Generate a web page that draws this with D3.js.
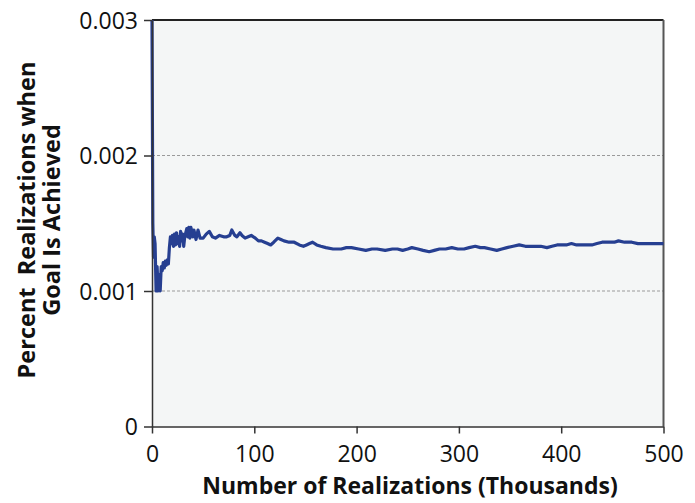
<!DOCTYPE html>
<html>
<head>
<meta charset="utf-8">
<script src="https://cdn.jsdelivr.net/npm/d3@7"></script>
<style>
  html, body { margin: 0; padding: 0; background: #fff; }
  svg { display: block; }
  .tick text { font-family: "Open Sans", sans-serif; font-size: 23px; fill: #111; }
</style>
</head>
<body>
<svg id="chart" width="695" height="503"></svg>
<script>
// Number of realizations (thousands) and running fraction where the goal is achieved
const realizations = [
  0, 0.8, 1.5, 2.2, 3, 4, 5, 6, 7, 8, 9, 10, 11, 12, 13, 14, 15, 16, 17, 18,
  19, 20, 21, 22, 23, 24, 25, 26, 27, 28, 29, 30, 31, 32, 34, 35, 36, 37, 38, 40,
  41, 43, 45, 47, 50, 53, 56, 59, 62, 66, 70, 73, 76, 78, 81, 83, 86, 88, 91, 94,
  97, 101, 104, 107, 110, 113, 116, 119, 123, 126, 129, 134, 139, 144, 148, 151, 154, 157, 161, 165,
  170, 177, 185, 190, 195, 202, 209, 215, 220, 228, 235, 240, 245, 250, 254, 260, 265, 271, 276, 281,
  287, 293, 299, 305, 310, 316, 321, 325, 331, 337, 342, 347, 353, 359, 365, 370, 375, 380, 386, 391,
  396, 400, 405, 410, 415, 420, 425, 430, 435, 440, 447, 452, 456, 462, 469, 475, 482, 490, 495, 500
];
const goalFraction = [
  0.00300, 0.00150, 0.00125, 0.00140, 0.00135, 0.00100, 0.00118, 0.00100, 0.00112, 0.00100, 0.00118, 0.00115, 0.00121, 0.00117, 0.00122, 0.00119, 0.00123, 0.00120, 0.00132, 0.00140,
  0.00135, 0.00141, 0.00133, 0.00142, 0.00134, 0.00143, 0.00135, 0.00140, 0.00133, 0.00144, 0.00137, 0.00142, 0.00133, 0.00140, 0.00146, 0.00140, 0.00147, 0.00139, 0.00147, 0.00140,
  0.00145, 0.00138, 0.00145, 0.00139, 0.00139, 0.00142, 0.00144, 0.00140, 0.00139, 0.00141, 0.00140, 0.00140, 0.00141, 0.00145, 0.00141, 0.00140, 0.00143, 0.00141, 0.00139, 0.00140,
  0.00141, 0.00139, 0.00137, 0.00137, 0.00136, 0.00135, 0.00134, 0.00136, 0.00139, 0.00138, 0.00137, 0.00136, 0.00136, 0.00134, 0.00133, 0.00134, 0.00135, 0.00136, 0.00134, 0.00133,
  0.00132, 0.00131, 0.00131, 0.00132, 0.00132, 0.00131, 0.00130, 0.00131, 0.00131, 0.00130, 0.00131, 0.00131, 0.00130, 0.00131, 0.00132, 0.00131, 0.00130, 0.00129, 0.00130, 0.00131,
  0.00131, 0.00132, 0.00131, 0.00131, 0.00132, 0.00133, 0.00132, 0.00132, 0.00131, 0.00130, 0.00131, 0.00132, 0.00133, 0.00134, 0.00133, 0.00133, 0.00133, 0.00133, 0.00132, 0.00133,
  0.00134, 0.00134, 0.00134, 0.00135, 0.00134, 0.00134, 0.00134, 0.00134, 0.00135, 0.00136, 0.00136, 0.00136, 0.00137, 0.00136, 0.00136, 0.00135, 0.00135, 0.00135, 0.00135, 0.00135
];
const xTicks = [0, 100, 200, 300, 400, 500];
const yTicks = [0, 0.001, 0.002, 0.003];
const yTickLabels = ["0", "0.001", "0.002", "0.003"];

const svg = d3.select("#chart");
const margin = { left: 152, right: 695 - 663.5, top: 20, bottom: 503 - 426.5 };
const width = 695 - margin.left - margin.right;
const height = 503 - margin.top - margin.bottom;

const x = d3.scaleLinear().domain([0, 500]).range([0, width]);
const y = d3.scaleLinear().domain([0, 0.003]).range([height, 0]);

const g = svg.append("g").attr("transform", `translate(${margin.left},${margin.top})`);

// plot background
g.append("rect").attr("x", 0).attr("y", 0).attr("width", width).attr("height", height)
  .attr("fill", "#f4f6f6");

// dashed gridlines
g.selectAll("line.grid").data(yTicks.filter(d => d > 0 && d < 0.003)).enter()
  .append("line").attr("class", "grid")
  .attr("x1", 0).attr("x2", width)
  .attr("y1", d => y(d)).attr("y2", d => y(d))
  .attr("stroke", "#9a9a9a").attr("stroke-width", 1).attr("stroke-dasharray", "3,2");

// frame: top and right edges
g.append("line").attr("x1", 0).attr("x2", width).attr("y1", 0).attr("y2", 0)
  .attr("stroke", "#222").attr("stroke-width", 2);
g.append("line").attr("x1", width).attr("x2", width).attr("y1", 0).attr("y2", height)
  .attr("stroke", "#555").attr("stroke-width", 2);

// data line
const line = d3.line().x((d, i) => x(realizations[i])).y(d => y(d));
g.append("path").datum(goalFraction)
  .attr("d", line)
  .attr("fill", "none")
  .attr("stroke", "#263f91")
  .attr("stroke-width", 3.2)
  .attr("stroke-linejoin", "round");

// axes
const xAxis = d3.axisBottom(x).tickValues(xTicks).tickFormat(d3.format("d"))
  .tickSizeOuter(0).tickSizeInner(7).tickPadding(12);
const yAxis = d3.axisLeft(y).tickValues(yTicks).tickFormat((d, i) => yTickLabels[i])
  .tickSizeOuter(0).tickSizeInner(8).tickPadding(6);

const gx = g.append("g").attr("transform", `translate(0,${height})`).call(xAxis);
const gy = g.append("g").call(yAxis);
[gx, gy].forEach(a => {
  a.selectAll(".domain").attr("stroke", "#333").attr("stroke-width", 1.5);
  a.selectAll(".tick line").attr("stroke", "#333").attr("stroke-width", 1.5);
});
gy.selectAll(".tick text").attr("dy", "0.36em");

// axis titles
svg.append("text")
  .attr("x", 410).attr("y", 494)
  .attr("text-anchor", "middle")
  .attr("font-family", "Open Sans, sans-serif").attr("font-weight", 700).attr("font-size", 23)
  .attr("fill", "#111")
  .text("Number of Realizations (Thousands)");

const yt = svg.append("text")
  .attr("transform", "translate(0,220) rotate(-90)")
  .attr("text-anchor", "middle")
  .attr("font-family", "Open Sans, sans-serif").attr("font-weight", 700).attr("font-size", 23.5)
  .attr("fill", "#111");
yt.append("tspan").attr("x", 0).attr("y", 35).attr("xml:space", "preserve").text("Percent  Realizations when");
yt.append("tspan").attr("x", 0).attr("y", 60).text("Goal Is Achieved");
</script>
</body>
</html>
